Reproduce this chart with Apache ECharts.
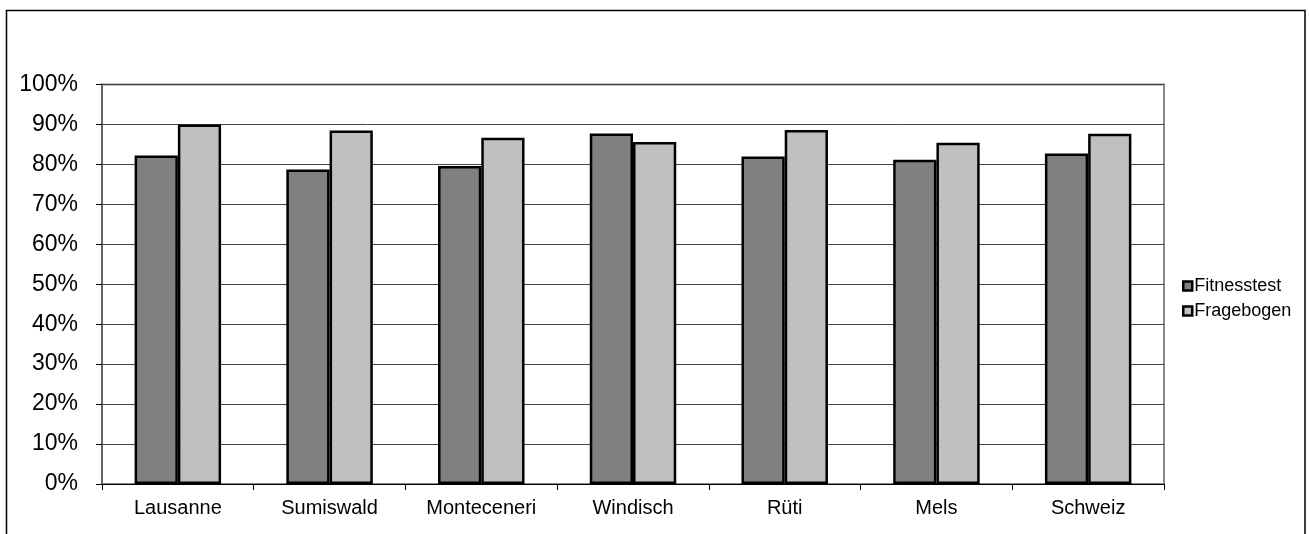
<!DOCTYPE html>
<html>
<head>
<meta charset="utf-8">
<script src="https://cdn.jsdelivr.net/npm/echarts@6/dist/echarts.min.js"></script>
<style>
  html, body { margin: 0; padding: 0; background: #fff; }
  #chart { width: 1309px; height: 534px; }
</style>
</head>
<body>
<div id="chart"></div>
<script>
// Sites compared
const categories = ['Lausanne', 'Sumiswald', 'Monteceneri', 'Windisch', 'Rüti', 'Mels', 'Schweiz'];
// Share in percent, per method
const fitnesstest = [82.25, 78.75, 79.6, 87.75, 82.0, 81.15, 82.75];
const fragebogen  = [90.0, 88.5, 86.65, 85.6, 88.6, 85.4, 87.65];
const seriesNames = ['Fitnesstest', 'Fragebogen'];

const font = 'Arial, "Liberation Sans", sans-serif';
const chart = echarts.init(document.getElementById('chart'), null, { renderer: 'canvas' });

chart.setOption({
  animation: false,
  backgroundColor: '#ffffff',
  textStyle: { fontFamily: font, color: '#000' },
  graphic: [{
    type: 'rect',
    shape: { x: 6.5, y: 10.5, width: 1298.5, height: 600 },
    style: { fill: 'none', stroke: '#000', lineWidth: 1.5 },
    silent: true
  }],
  grid: {
    left: 102, right: 145, top: 84.5, bottom: 50,
    show: true, borderColor: '#888', borderWidth: 2, backgroundColor: 'transparent'
  },
  legend: {
    orient: 'vertical',
    left: 1177, top: 272,
    icon: 'rect',
    itemWidth: 9, itemHeight: 9, itemGap: 7,
    itemStyle: { borderColor: '#000', borderWidth: 2.5 },
    textStyle: { fontFamily: font, fontSize: 18, color: '#000', padding: [0, 0, 0, -3] },
    data: seriesNames
  },
  xAxis: {
    type: 'category',
    data: categories,
    axisLine: { show: true, lineStyle: { color: '#000', width: 1 } },
    axisTick: { show: true, length: 6, lineStyle: { color: '#000' } },
    axisLabel: { fontFamily: font, fontSize: 20, color: '#000', margin: 14 }
  },
  yAxis: {
    type: 'value',
    min: 0, max: 100, interval: 10,
    axisLine: { show: true, lineStyle: { color: '#666', width: 2 } },
    axisTick: { show: true, length: 6, lineStyle: { color: '#000' } },
    axisLabel: { fontFamily: font, fontSize: 23, color: '#000', margin: 24, formatter: '{value}%' },
    splitLine: { show: true, lineStyle: { color: '#444', width: 1 } }
  },
  series: [
    {
      name: seriesNames[0], type: 'bar', data: fitnesstest,
      barGap: '0%', barCategoryGap: '43%',
      itemStyle: { color: '#808080', borderColor: '#000', borderWidth: 2.5 }
    },
    {
      name: seriesNames[1], type: 'bar', data: fragebogen,
      barGap: '0%', barCategoryGap: '43%',
      itemStyle: { color: '#c0c0c0', borderColor: '#000', borderWidth: 2.5 }
    }
  ]
});
</script>
</body>
</html>
